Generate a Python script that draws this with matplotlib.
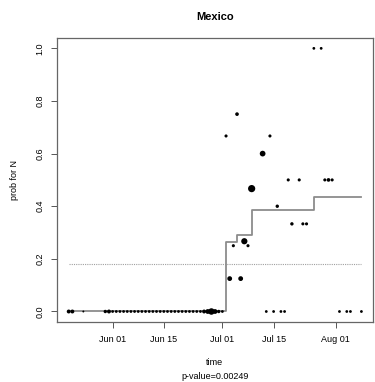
import matplotlib
matplotlib.use("Agg")
import matplotlib.pyplot as plt
import matplotlib.dates as mdates
import numpy as np

# observed proportions (date, value, point weight)
zero_dates = (["2009-05-20", "2009-05-21", "2009-05-24"]
              + [str(d) for d in np.arange(np.datetime64("2009-05-30"), np.datetime64("2009-07-02"))]
              + ["2009-07-13", "2009-07-15", "2009-07-17", "2009-07-18",
                 "2009-08-02", "2009-08-04", "2009-08-05", "2009-08-08"])
zero_sizes = {"2009-05-20": 8, "2009-05-21": 8, "2009-05-24": 2, "2009-05-30": 6, "2009-05-31": 8,
              "2009-06-26": 8, "2009-06-27": 12, "2009-06-28": 22, "2009-06-29": 12, "2009-06-30": 6}

pos_dates = ["2009-07-02", "2009-07-03", "2009-07-04", "2009-07-05", "2009-07-06", "2009-07-07",
             "2009-07-08", "2009-07-09", "2009-07-12", "2009-07-14", "2009-07-16", "2009-07-19",
             "2009-07-20", "2009-07-22", "2009-07-23", "2009-07-24", "2009-07-26", "2009-07-28",
             "2009-07-29", "2009-07-30", "2009-07-31"]
pos_values = [0.667, 0.125, 0.25, 0.75, 0.125, 0.267, 0.25, 0.467, 0.6, 0.667, 0.4, 0.5,
              0.333, 0.5, 0.333, 0.333, 1.0, 1.0, 0.5, 0.5, 0.5]
pos_sizes = [5, 12, 5, 7, 12, 20, 5, 27, 17, 5, 6, 5, 6, 5, 5, 5, 4, 4, 5, 7, 5]

# fitted step curve
step_dates = ["2009-05-20", "2009-07-02", "2009-07-05", "2009-07-09", "2009-07-26", "2009-08-08"]
step_values = [0.0, 0.264, 0.289, 0.385, 0.437, 0.437]
baseline = 0.18

tick_dates = ["2009-06-01", "2009-06-15", "2009-07-01", "2009-07-15", "2009-08-01"]
tick_labels = ["Jun 01", "Jun 15", "Jul 01", "Jul 15", "Aug 01"]

to_num = lambda ds: mdates.date2num(np.array(ds, dtype="datetime64[D]"))

plt.rcParams['font.family'] = ['Liberation Sans', 'DejaVu Sans']
fig = plt.figure(figsize=(3.75, 3.82), dpi=100)
ax = fig.add_axes([0.152, 0.157, 0.843, 0.744])

zx = to_num(zero_dates)
zs = [zero_sizes.get(d, 4) for d in zero_dates]
ax.scatter(zx, np.zeros(len(zx)), s=zs, c="black", lw=0, zorder=3)
ax.scatter(to_num(pos_dates), pos_values, s=pos_sizes, c="black", lw=0, zorder=3)

sx = to_num(step_dates)
ax.plot(sx, step_values, drawstyle="steps-post", color="#8c8c8c", lw=1.3, zorder=2)
ax.plot([sx[0], sx[-1]], [baseline, baseline], color="#a0a0a0", lw=0.8,
        linestyle=(0, (1, 1)), zorder=1)

span = sx[-1] - sx[0]
ax.set_xlim(sx[0] - 0.04 * span, sx[-1] + 0.04 * span)
ax.set_ylim(-0.04, 1.04)
ax.set_xticks(to_num(tick_dates))
ax.set_xticklabels(tick_labels)
ax.set_yticks([0, 0.2, 0.4, 0.6, 0.8, 1.0])
ax.set_yticklabels(["0.0", "0.2", "0.4", "0.6", "0.8", "1.0"], rotation=90, va="center")
ax.tick_params(labelsize=6.5, length=4, width=0.7, color="#555555", pad=5)
for sp in ax.spines.values():
    sp.set_color("#666666")
    sp.set_linewidth(0.9)

ax.set_title("Mexico", fontsize=8, fontweight="bold", pad=13)
ax.set_ylabel("prob for N", fontsize=6.5, labelpad=12)
fig.text(0.573, 0.045, "time", ha="center", fontsize=6.5)
fig.text(0.573, 0.008, "p-value=0.00249", ha="center", fontsize=6.5)

fig.savefig("out.png", dpi=100)
